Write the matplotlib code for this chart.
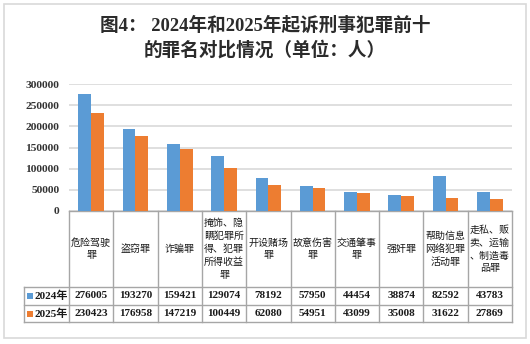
import matplotlib
matplotlib.use("Agg")
import matplotlib.pyplot as plt
from matplotlib.transforms import blended_transform_factory
from matplotlib.patches import Rectangle

categories = [
    "危险驾驶\n罪", "盗窃罪", "诈骗罪", "掩饰、隐\n瞒犯罪所\n得、犯罪\n所得收益\n罪",
    "开设赌场\n罪", "故意伤害\n罪", "交通肇事\n罪", "强奸罪",
    "帮助信息\n网络犯罪\n活动罪", "走私、贩\n卖、运输\n、制造毒\n品罪",
]
series_names = ["2024年", "2025年"]
values_2024 = [276005, 193270, 159421, 129074, 78192, 57950, 44454, 38874, 82592, 43783]
values_2025 = [230423, 176958, 147219, 100449, 62080, 54951, 43099, 35008, 31622, 27869]
yticks = [0, 50000, 100000, 150000, 200000, 250000, 300000]
title = "图4： 2024年和2025年起诉刑事犯罪前十\n的罪名对比情况（单位：人）"

W, H = 530, 344
BLUE, ORANGE = "#5B9BD5", "#ED7D31"
GRID, LINE = "#D9D9D9", "#A6A6A6"
SERIF_CJK = ["Liberation Serif", "Noto Sans CJK SC"]
CJK = ["Noto Sans CJK SC", "DejaVu Sans"]

fig = plt.figure(figsize=(W / 100, H / 100), dpi=100)
fy = lambda py: 1 - py / H
fx = lambda px: px / W

# outer frame
fig.add_artist(Rectangle((fx(4), fy(338)), fx(522), (338 - 4) / H, transform=fig.transFigure,
                         fill=False, edgecolor=GRID, lw=1.2))

fig.text(0.5, fy(38), title, ha="center", va="center", fontsize=13.4, fontweight="bold",
         family=SERIF_CJK, color="#2b2b2b", linespacing=1.4)

x0, x1, ybase, ytop = 69, 512, 211, 84
ax = fig.add_axes([fx(x0), fy(ybase), (x1 - x0) / W, (ybase - ytop) / H])
n = len(categories)
xs = list(range(n))
bw = 0.29
ax.bar([x - bw / 2 for x in xs], values_2024, width=bw, color=BLUE, zorder=3)
ax.bar([x + bw / 2 for x in xs], values_2025, width=bw, color=ORANGE, zorder=3)
ax.set_xlim(-0.5, n - 0.5)
ax.set_ylim(0, 300000)
ax.set_yticks(yticks)
ax.set_yticklabels([str(v) for v in yticks], fontsize=8.2, fontweight="bold",
                   family="Liberation Serif", color="#333333")
ax.set_xticks([])
ax.tick_params(axis="y", length=0, pad=7)
for s in ax.spines.values():
    s.set_visible(False)
ax.grid(axis="y", color=GRID, lw=1.2, zorder=0)

# data table below the plot
tr = blended_transform_factory(ax.transData, fig.transFigure)
left_px = 24
rows = [211, 287, 305, 322]
for i, r in enumerate(rows):
    if i == 0:
        ax.plot([-0.5, n - 0.5], [fy(r)] * 2, transform=tr, color=LINE, lw=1, clip_on=False)
    else:
        fig.add_artist(plt.Line2D([fx(left_px), fx(x1)], [fy(r)] * 2, transform=fig.transFigure,
                                  color=LINE, lw=1))
for k in range(n + 1):
    ax.plot([k - 0.5, k - 0.5], [fy(211), fy(322)], transform=tr, color=LINE, lw=1, clip_on=False)
fig.add_artist(plt.Line2D([fx(left_px)] * 2, [fy(287), fy(322)], transform=fig.transFigure,
                          color=LINE, lw=1))

for i, c in enumerate(categories):
    ax.text(i, fy(249), c, transform=tr, ha="center", va="center", fontsize=7.2,
            family=CJK, color="#1a1a1a", linespacing=1.35)

for vals, ry in ((values_2024, 296), (values_2025, 313.5)):
    for i, v in enumerate(vals):
        ax.text(i, fy(ry), str(v), transform=tr, ha="center", va="center", fontsize=8,
                fontweight="bold", family="Liberation Serif", color="#1a1a1a")

for name, color, ry in ((series_names[0], BLUE, 296), (series_names[1], ORANGE, 313.5)):
    fig.add_artist(Rectangle((fx(27), fy(ry + 3)), fx(6), 6 / H, transform=fig.transFigure,
                             color=color, lw=0))
    fig.text(fx(34.5), fy(ry), name, ha="left", va="center", fontsize=8, fontweight="bold",
             family=SERIF_CJK, color="#1a1a1a")

fig.savefig("out.png", dpi=100)
